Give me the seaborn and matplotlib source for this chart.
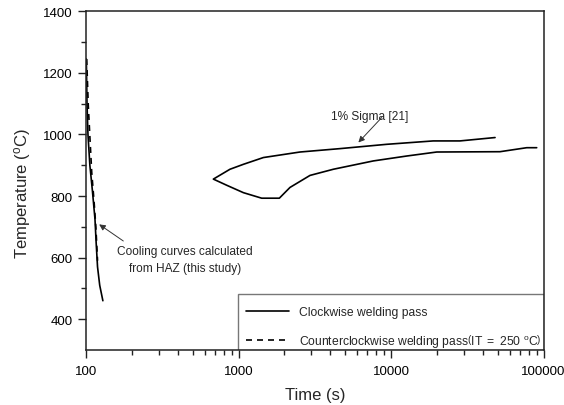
import numpy as np
import pandas as pd
import matplotlib
matplotlib.use("Agg")
import matplotlib.pyplot as plt
import seaborn as sns
from matplotlib.lines import Line2D
from matplotlib.patches import Rectangle
from matplotlib.ticker import LogLocator, FixedLocator, NullFormatter

# ---- data ----
cw_time = [100.5, 101.5, 103, 106, 110, 114.5, 116.5, 119, 123, 129]
cw_temp = [1245, 1100, 1000, 900, 820, 725, 650, 570, 510, 460]

ccw_time = [101, 103.5, 106.2, 109, 113, 116, 119]
ccw_temp = [1245, 1093, 985, 877, 780, 700, 590]

sigma_upper_time = [684, 879, 1076, 1455, 2530, 4630, 9370, 18900, 28300, 48100]
sigma_upper_temp = [855, 887, 903, 925, 943, 954, 968, 979, 979, 990]
sigma_lower_time = [684, 837, 1076, 1419, 1852, 2176, 2943, 4187, 7650, 12680, 19950, 51800, 77600, 90200]
sigma_lower_temp = [855, 835, 811, 793, 793, 828, 867, 887, 914, 930, 943, 944, 957, 957]

xticks = [100, 1000, 10000, 100000]
xticklabels = ["100", "1000", "10000", "100000"]
yticks = [400, 600, 800, 1000, 1200, 1400]

# ---- style ----
sns.set_style("ticks")
plt.rcParams["font.family"] = ["Liberation Sans", "DejaVu Sans"]
plt.rcParams["mathtext.fontset"] = "custom"
plt.rcParams["mathtext.rm"] = "Liberation Sans"
plt.rcParams["mathtext.it"] = "Liberation Sans:italic"
plt.rcParams["mathtext.bf"] = "Liberation Sans:bold"

fig = plt.figure(figsize=(5.64, 4.06), dpi=100)
ax = fig.add_axes([0.1525, 0.1355, 0.9637 - 0.1525, 0.9697 - 0.1355])

sigma_time = list(reversed(sigma_upper_time)) + sigma_lower_time[1:]
sigma_temp = list(reversed(sigma_upper_temp)) + sigma_lower_temp[1:]

df_cw = pd.DataFrame({"t": cw_time, "T": cw_temp})
df_ccw = pd.DataFrame({"t": ccw_time, "T": ccw_temp})
df_sig = pd.DataFrame({"t": sigma_time, "T": sigma_temp})

dash = (0, (3.6, 3))
sns.lineplot(data=df_cw, x="t", y="T", sort=False, estimator=None, color="black", lw=1.2, ax=ax)
sns.lineplot(data=df_ccw, x="t", y="T", sort=False, estimator=None, color="black", lw=1.2, ax=ax, linestyle=dash)
sns.lineplot(data=df_sig, x="t", y="T", sort=False, estimator=None, color="black", lw=1.2, ax=ax)

ax.set_xscale("log")
ax.set_xlim(100, 100000)
ax.set_ylim(300, 1400)
ax.set_xticks(xticks, labels=xticklabels)
ax.xaxis.set_minor_locator(LogLocator(base=10, subs=np.arange(2, 10)))
ax.xaxis.set_minor_formatter(NullFormatter())
ax.set_yticks(yticks)
ax.yaxis.set_minor_locator(FixedLocator([500, 700, 900, 1100, 1300]))

ax.tick_params(axis="both", which="major", direction="out", length=6, width=1, labelsize=9.5, colors="#222222", labelcolor="black")
ax.tick_params(axis="both", which="minor", direction="out", length=3.5, width=1, colors="#222222")
ax.tick_params(axis="x", pad=5)
for s in ax.spines.values():
    s.set_linewidth(1.1)
    s.set_color("#222222")
    s.set_visible(True)
    s.set_zorder(6)

ax.set_xlabel("Time (s)", fontsize=12, labelpad=7)
ax.set_ylabel(r"Temperature ($^{\mathrm{o}}$C)", fontsize=12)
ax.yaxis.set_label_coords(-0.1156, 0.465)

# annotations
ax.text(159.7, 641.5, "Cooling curves calculated\nfrom HAZ (this study)",
        fontsize=8.6, ha="left", va="top", multialignment="center", linespacing=1.6)
ax.annotate("", xy=(122, 708), xytext=(175.6, 654),
            arrowprops=dict(arrowstyle="-|>", color="#333333", lw=0.7, mutation_scale=9,
                            shrinkA=0, shrinkB=0))
ax.text(7280, 1060, "1% Sigma [21]", fontsize=8.6, ha="center", va="center")
ax.annotate("", xy=(6110, 974), xytext=(8690, 1055),
            arrowprops=dict(arrowstyle="-|>", color="#333333", lw=0.7, mutation_scale=9,
                            shrinkA=0, shrinkB=0))

# legend frame drawn separately so the rows can sit where the reference has them
frame = Rectangle((0.333, 0.0), 0.667, 0.165, transform=ax.transAxes, facecolor="white",
                  edgecolor="#777777", lw=1.0, zorder=4)
ax.add_patch(frame)

handles = [Line2D([], [], color="black", lw=1.2),
           Line2D([], [], color="black", lw=1.2, linestyle=dash)]
labels = ["Clockwise welding pass",
          r"Counterclockwise welding pass$\left(\mathrm{IT\ =\ 250\ }^{\mathrm{o}}\mathrm{C}\right)$"]
leg = ax.legend(handles, labels, loc="lower left", bbox_to_anchor=(0.333, -0.0177, 0.667, 0.165),
                mode="expand", borderaxespad=0, fontsize=8.7, handlelength=3.6, labelspacing=1.15,
                frameon=False, borderpad=0.6)
leg.set_zorder(5)

fig.savefig("out.png", dpi=100)
